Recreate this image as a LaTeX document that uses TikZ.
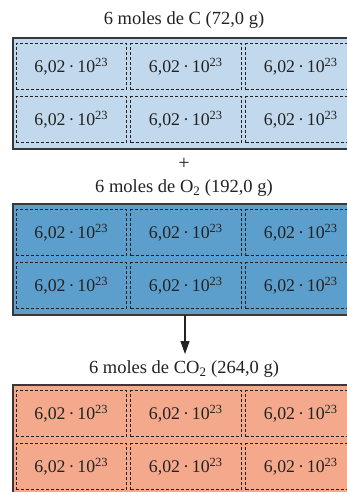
\documentclass[tikz,border=0pt]{standalone}
\usepackage{fontspec}
\setmainfont{Liberation Serif}
\usetikzlibrary{arrows.meta}
\definecolor{lightblue}{HTML}{C2D9ED}
\definecolor{midblue}{HTML}{5C9FCC}
\definecolor{salmon}{HTML}{F5A98C}
\definecolor{bordergray}{HTML}{383838}
\definecolor{inkgray}{HTML}{222222}
\begin{document}
\begin{tikzpicture}[x=1pt,y=-1pt,
  bigbox/.style={draw=bordergray, line width=1.8pt, anchor=north west, minimum width=352pt, minimum height=111pt, inner sep=0pt},
  cell/.style={draw=inkgray, dash pattern=on 3pt off 2pt, line width=1.1pt, minimum width=110.5pt, minimum height=46pt, inner sep=0pt, anchor=north west, font=\fontsize{17.8}{20}\selectfont, text=inkgray},
  title/.style={font=\fontsize{18.5}{22}\selectfont, text=inkgray, inner sep=0pt}]
\useasboundingbox (0,0) rectangle (347,492);
\clip (0,0) rectangle (347,492);
\fill[white] (0,0) rectangle (347,492);
\newcommand\cellnum{6,02\,·\,10\textsuperscript{23}}
% titles
\node[title] (t1) at (184,20) {6 moles de C (72,0 g)};
\node[title, font=\fontsize{20}{22}\selectfont] (plus) at (184,164) {+};
\node[title] (t2) at (184,188) {6 moles de O\textsubscript{2} (192,0 g)};
\node[title] (t3) at (184,369) {6 moles de CO\textsubscript{2} (264,0 g)};
% boxes
\foreach \b/\top/\col in {1/37/lightblue, 2/203/midblue, 3/384/salmon} {
  \node[bigbox, fill=\col] (box\b) at (12,\top) {};
  \foreach \r/\dy in {1/6, 2/59} {
    \foreach \c/\x in {1/15.5, 2/130, 3/245} {
      \node[cell] (c\b\r\c) at (\x,\top+\dy) {\cellnum};
    }
  }
}
\coordinate (astart) at (185,315);
\coordinate (aend) at (185,354);
\draw[line width=1.1pt, draw=inkgray, -{Triangle[length=13pt,width=9pt]}] (astart) -- (aend);
\end{tikzpicture}
\end{document}
